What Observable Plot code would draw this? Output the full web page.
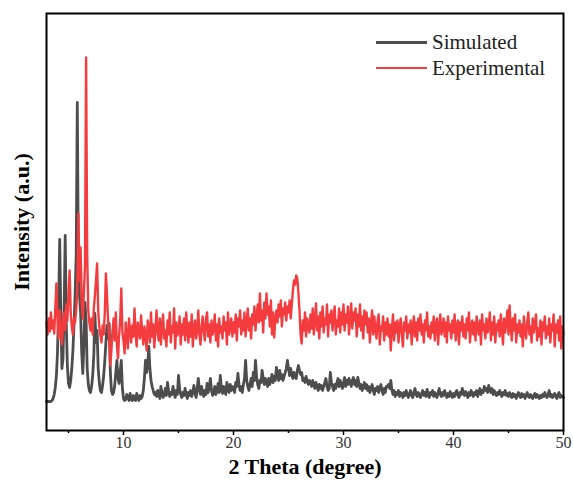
<!DOCTYPE html>
<html>
<head>
<meta charset="utf-8">
<script src="https://cdn.jsdelivr.net/npm/d3@7"></script>
<script src="https://cdn.jsdelivr.net/npm/@observablehq/plot@0.6"></script>
<style>
  html, body { margin: 0; padding: 0; background: #fff; font-family: "Liberation Serif", serif; }
  #wrap { position: relative; width: 573px; height: 480px; font-family: "Liberation Serif", serif; }
  #wrap svg { display: block; font-family: "Liberation Serif", serif !important; }
  #wrap svg text { font-family: "Liberation Serif", serif; }
  [aria-label="x-axis label"] text, [aria-label="y-axis label"] text { font-weight: bold; font-size: 22px; fill: #000; }
  [aria-label="x-axis tick label"] text { fill: #333; }
  .legend { position: absolute; left: 376px; top: 29px; font-family: "Liberation Serif", serif !important; font-size: 21px; color: #222; line-height: 26px; }
  .legend .row { display: flex; align-items: center; }
  .legend .sw { width: 51px; margin-right: 5px; }
</style>
</head>
<body>
<div id="wrap"></div>
<script>
// 2θ sampling of both patterns (degrees)
const thetaStart = 3;
const thetaStep = 0.1;
const xTicks = [10, 20, 30, 40, 50];
const xMinorTicks = [5, 15, 25, 35, 45];
const seriesNames = ["Simulated", "Experimental"];
const seriesColors = ["#4d4d4d", "#f43c3f"];

// Simulated pattern (a.u.), one row per degree
const simulated = [
  29, 29, 29, 29, 29, 30, 32, 36, 43, 55,
  78, 125, 191, 118, 62, 72, 120, 195, 105, 64,
  47, 43, 50, 62, 80, 105, 135, 175, 328, 160,
  135, 118, 78, 57, 85, 128, 110, 62, 46, 40,
  38, 44, 55, 75, 117, 88, 100, 62, 48, 40,
  38, 45, 55, 70, 88, 105, 92, 107, 60, 40,
  36, 38, 45, 58, 70, 52, 47, 58, 70, 42,
  32, 30, 31, 36, 33, 30, 37, 31, 30, 35,
  31, 30, 37, 33, 30, 35, 32, 34, 40, 52,
  70, 58, 66, 84, 62, 50, 44, 40, 36, 38,
  34, 40, 36, 32, 44, 38, 33, 36, 42, 35,
  48, 40, 34, 38, 36, 44, 37, 33, 40, 36,
  55, 42, 36, 33, 38, 35, 42, 36, 32, 38,
  35, 40, 34, 38, 45, 37, 33, 42, 52, 40,
  36, 44, 38, 34, 40, 36, 47, 38, 44, 52,
  40, 35, 38, 44, 36, 40, 47, 38, 55, 42,
  37, 44, 40, 36, 48, 42, 38, 46, 40, 44,
  42, 38, 48, 44, 57, 46, 40, 44, 38, 46,
  52, 70, 50, 44, 40, 46, 52, 44, 58, 50,
  70, 54, 46, 42, 50, 48, 60, 52, 46, 52,
  48, 44, 52, 46, 50, 56, 48, 54, 50, 63,
  55, 50, 60, 52, 56, 50, 54, 58, 62, 70,
  62, 55, 62, 56, 52, 58, 54, 52, 60, 65,
  60, 56, 58, 50, 52, 48, 54, 50, 46, 50,
  48, 44, 50, 46, 42, 48, 44, 40, 46, 42,
  45, 40, 44, 48, 52, 44, 40, 42, 58, 48,
  44, 40, 46, 42, 48, 52, 44, 50, 46, 42,
  48, 53, 44, 50, 46, 52, 48, 44, 50, 53,
  46, 50, 44, 53, 48, 42, 46, 40, 44, 48,
  42, 46, 40, 44, 38, 42, 46, 40, 36, 42,
  40, 44, 38, 42, 46, 40, 36, 42, 38, 44,
  44, 46, 42, 50, 40, 36, 40, 34, 38, 36,
  40, 34, 38, 36, 33, 38, 35, 40, 36, 33,
  37, 40, 35, 33, 38, 42, 36, 34, 38, 35,
  33, 37, 40, 35, 38, 34, 41, 36, 33, 38,
  36, 40, 34, 38, 35, 33, 38, 42, 36, 34,
  38, 35, 40, 36, 33, 37, 34, 39, 36, 33,
  37, 34, 38, 40, 35, 33, 38, 36, 42, 37,
  35, 39, 36, 33, 38, 35, 40, 37, 34, 38,
  36, 40, 34, 38, 42, 36, 40, 38, 44, 40,
  42, 38, 45, 41, 38, 42, 36, 40, 37, 35,
  38, 36, 40, 37, 34, 38, 36, 40, 35, 37,
  34, 38, 35, 33, 37, 34, 36, 32, 35, 38,
  35, 33, 37, 34, 36, 32, 35, 38, 34, 33,
  36, 34, 32, 35, 37, 33, 36, 34, 32, 35,
  33, 36, 34, 38, 35, 33, 36, 40, 34, 36,
  33, 35, 37, 34, 32, 36, 38, 33, 35, 34,
  33
];

// Experimental pattern (a.u.), one row per degree
const experimental = [
  108, 96, 112, 99, 118, 102, 110, 97, 122, 147,
  112, 92, 120, 104, 86, 108, 118, 100, 126, 110,
  138, 160, 118, 104, 96, 112, 108, 120, 140, 217,
  150, 183, 128, 112, 138, 165, 373, 175, 120, 108,
  100, 112, 96, 122, 135, 150, 167, 120, 104, 95,
  88, 105, 96, 118, 157, 135, 110, 92, 65, 80,
  100, 112, 90, 118, 85, 72, 95, 110, 142, 98,
  90, 77, 108, 95, 82, 112, 100, 88, 105, 94,
  122, 96, 84, 108, 100, 92, 115, 98, 86, 104,
  96, 80, 110, 101, 88, 118, 94, 106, 83, 100,
  120, 98, 90, 112, 86, 104, 116, 92, 100, 84,
  110, 96, 118, 88, 104, 98, 122, 82, 108, 95,
  100, 114, 86, 106, 96, 112, 90, 118, 102, 88,
  108, 94, 116, 84, 102, 110, 92, 100, 120, 96,
  86, 104, 114, 98, 90, 112, 118, 94, 106, 88,
  110, 96, 102, 116, 90, 106, 84, 112, 98, 104,
  92, 114, 100, 108, 86, 118, 96, 104, 112, 94,
  108, 98, 116, 90, 112, 104, 120, 96, 110, 100,
  118, 94, 108, 122, 100, 112, 92, 116, 106, 124,
  100, 114, 126, 108, 137, 110, 120, 98, 128, 112,
  137, 116, 124, 104, 130, 96, 118, 93, 112, 120,
  108, 126, 114, 130, 104, 122, 116, 128, 110, 124,
  118, 130, 112, 126, 140, 150, 146, 155, 152, 138,
  120, 96, 87, 110, 100, 118, 94, 112, 104, 98,
  116, 102, 122, 96, 110, 127, 100, 114, 92, 118,
  104, 124, 98, 112, 106, 126, 94, 116, 108, 120,
  100, 114, 124, 96, 110, 104, 122, 98, 118, 106,
  126, 100, 116, 108, 124, 96, 112, 127, 102, 118,
  110, 122, 94, 116, 104, 126, 100, 114, 92, 120,
  106, 118, 98, 112, 88, 108, 120, 96, 114, 102,
  92, 110, 116, 86, 104, 100, 114, 90, 108, 96,
  112, 94, 106, 80, 102, 116, 90, 108, 98, 110,
  88, 104, 112, 96, 84, 108, 100, 114, 92, 106,
  98, 110, 86, 104, 114, 94, 108, 90, 112, 100,
  116, 96, 106, 88, 110, 100, 118, 94, 104, 92,
  108, 98, 114, 90, 106, 112, 86, 104, 116, 96,
  102, 112, 94, 108, 88, 114, 100, 106, 92, 110,
  98, 116, 90, 104, 110, 86, 108, 100, 114, 94,
  106, 92, 112, 100, 118, 88, 104, 110, 96, 108,
  90, 114, 102, 96, 110, 86, 116, 100, 106, 92,
  112, 98, 104, 118, 90, 108, 96, 114, 88, 106,
  100, 110, 94, 116, 102, 86, 112, 98, 108, 120,
  96, 125, 104, 90, 112, 100, 116, 88, 106, 98,
  110, 94, 106, 84, 114, 100, 92, 108, 118, 96,
  104, 88, 112, 98, 106, 116, 90, 102, 94, 110,
  86, 108, 100, 114, 92, 104, 96, 112, 88, 106,
  100, 116, 84, 106, 98, 110, 90, 114, 82, 104,
  96
];

const toRows = (values, series) =>
  values.map((v, i) => ({theta: +(thetaStart + i * thetaStep).toFixed(2), intensity: v, series}));
const simRows = toRows(simulated, seriesNames[0]);
const expRows = toRows(experimental, seriesNames[1]);

const chart = Plot.plot({
  width: 573,
  height: 480,
  marginLeft: 46,
  marginRight: 10,
  marginTop: 13,
  marginBottom: 50,
  style: {fontFamily: "Liberation Serif, serif", fontSize: "16px", color: "#333", background: "#fff"},
  x: {domain: [3, 50]},
  y: {domain: [0, 417]},
  marks: [
    Plot.line(simRows, {x: "theta", y: "intensity", stroke: seriesColors[0], strokeWidth: 2.8, curve: "linear"}),
    Plot.line(expRows, {x: "theta", y: "intensity", stroke: seriesColors[1], strokeWidth: 2.4, curve: "linear"}),
    Plot.axisX({ticks: xMinorTicks, tickSize: 3, tickFormat: () => "", label: null, strokeWidth: 1.5, stroke: "#000"}),
    Plot.axisX({ticks: xTicks, tickSize: 5, tickPadding: 1, fontSize: 16, label: "2 Theta (degree)", labelAnchor: "center", labelArrow: "none", labelOffset: 43, strokeWidth: 1.5, stroke: "#000"}),
    Plot.axisY({ticks: [], label: "Intensity (a.u.)", labelAnchor: "center", labelArrow: "none", labelOffset: 33}),
    Plot.frame({stroke: "#000", strokeWidth: 2})
  ]
});

const wrap = document.getElementById("wrap");
wrap.appendChild(chart);

const legend = document.createElement("div");
legend.className = "legend";
seriesNames.forEach((name, i) => {
  const row = document.createElement("div");
  row.className = "row";
  const sw = document.createElement("span");
  sw.className = "sw";
  sw.style.borderTop = `${i === 0 ? 3 : 2.5}px solid ${seriesColors[i]}`;
  const label = document.createElement("span");
  label.textContent = name;
  row.appendChild(sw);
  row.appendChild(label);
  legend.appendChild(row);
});
wrap.appendChild(legend);
</script>
</body>
</html>
